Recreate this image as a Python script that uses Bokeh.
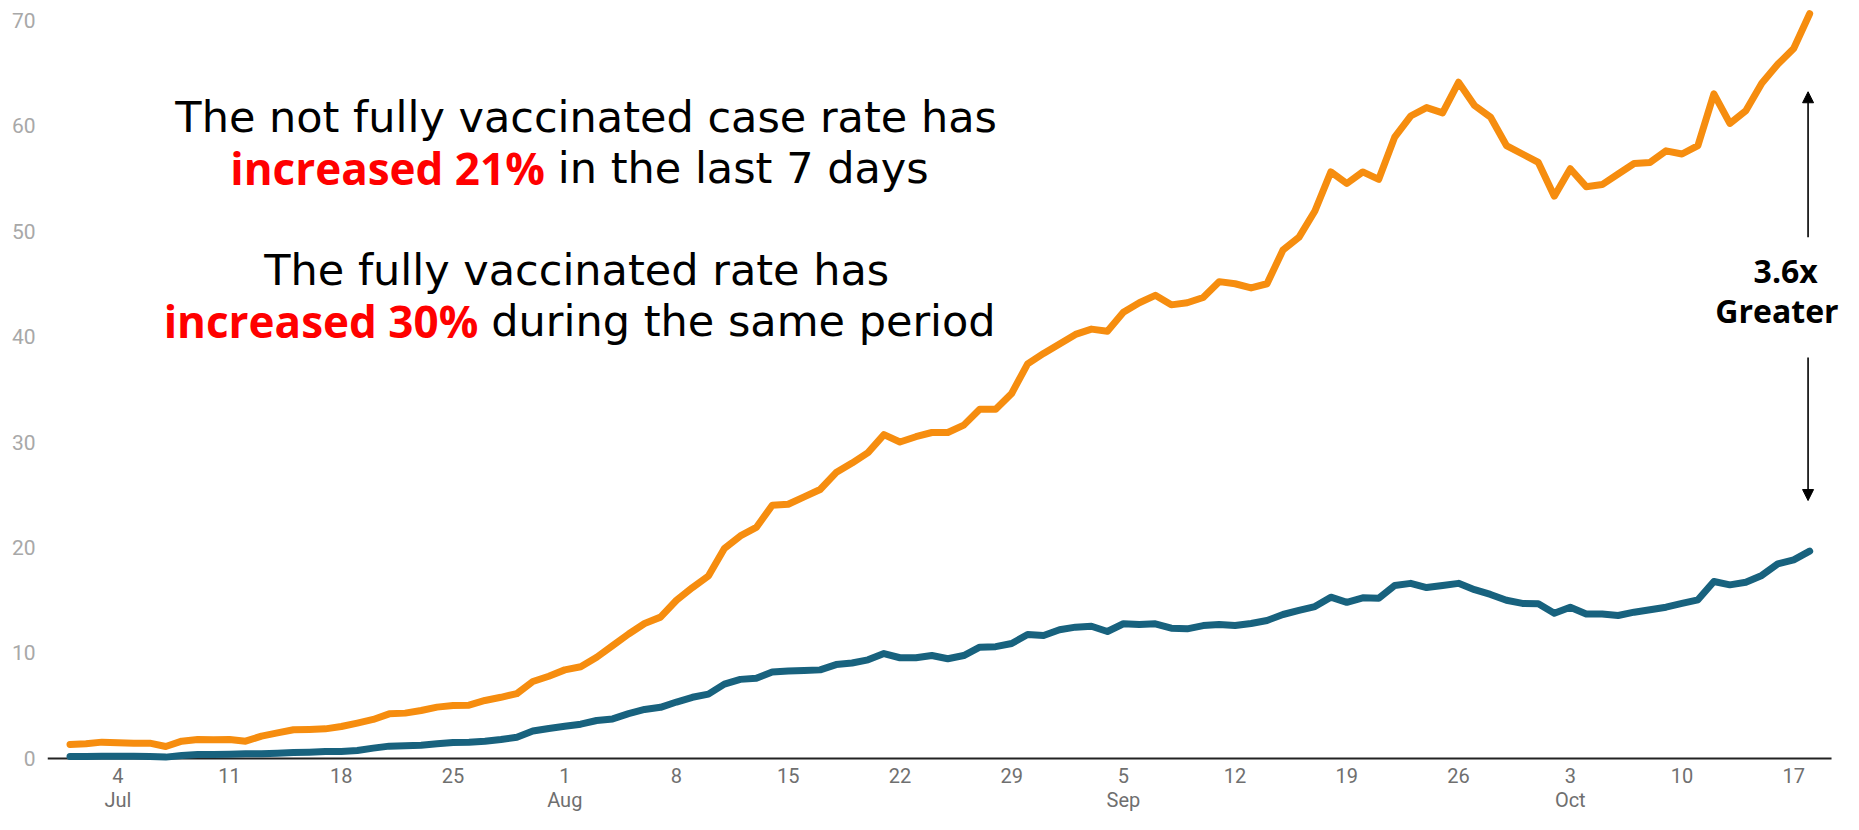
import pandas as pd
from bokeh.plotting import figure
from bokeh.models import FixedTicker, Label, Arrow, NormalHead, Range1d
from bokeh.embed import file_html
from bokeh.resources import INLINE

# ---------------- data ----------------
start_date = "2021-07-01"
end_date = "2021-10-18"

not_fully_vaccinated = [
    1.33, 1.39, 1.55, 1.49, 1.45, 1.45, 1.14, 1.64, 1.80, 1.77,
    1.80, 1.64, 2.12, 2.43, 2.72, 2.75, 2.81, 3.03, 3.35, 3.70,
    4.23, 4.30, 4.55, 4.87, 5.02, 5.05, 5.50, 5.80, 6.15, 7.30,
    7.80, 8.40, 8.70, 9.60, 10.7, 11.8, 12.8, 13.4, 15.0, 16.2,
    17.3, 19.9, 21.1, 21.9, 24.0, 24.1, 24.8, 25.5, 27.1, 28.0,
    29.0, 30.7, 30.0, 30.5, 30.9, 30.9, 31.6, 33.1, 33.1, 34.6,
    37.4, 38.4, 39.3, 40.2, 40.7, 40.5, 42.3, 43.2, 43.9, 43.0,
    43.2, 43.7, 45.2, 45.0, 44.6, 45.0, 48.2, 49.4, 51.9, 55.6,
    54.5, 55.6, 54.9, 58.9, 60.9, 61.7, 61.2, 64.1, 61.9, 60.8,
    58.1, 57.3, 56.5, 53.3, 55.9, 54.2, 54.4, 55.4, 56.4, 56.5,
    57.6, 57.3, 58.1, 63.0, 60.2, 61.4, 64.0, 65.8, 67.3, 70.6,
]

fully_vaccinated = [
    0.19, 0.19, 0.22, 0.22, 0.22, 0.19, 0.13, 0.28, 0.38, 0.38,
    0.41, 0.44, 0.44, 0.50, 0.57, 0.60, 0.66, 0.66, 0.76, 0.98,
    1.17, 1.20, 1.26, 1.39, 1.52, 1.55, 1.64, 1.80, 2.02, 2.60,
    2.85, 3.05, 3.25, 3.60, 3.75, 4.25, 4.65, 4.85, 5.35, 5.80,
    6.10, 7.05, 7.50, 7.60, 8.20, 8.30, 8.35, 8.40, 8.90, 9.05,
    9.35, 9.95, 9.55, 9.55, 9.76, 9.45, 9.76, 10.55, 10.6, 10.9,
    11.75, 11.66, 12.2, 12.45, 12.54, 12.04, 12.77, 12.7, 12.77, 12.35,
    12.29, 12.6, 12.7, 12.6, 12.8, 13.08, 13.65, 14.03, 14.4, 15.29,
    14.8, 15.23, 15.2, 16.4, 16.6, 16.2, 16.4, 16.6, 16.0, 15.55,
    15.0, 14.7, 14.66, 13.77, 14.34, 13.7, 13.7, 13.55, 13.87, 14.1,
    14.34, 14.7, 15.04, 16.78, 16.46, 16.7, 17.35, 18.45, 18.83, 19.65,
]

tick_dates = ["2021-07-04", "2021-07-11", "2021-07-18", "2021-07-25",
              "2021-08-01", "2021-08-08", "2021-08-15", "2021-08-22", "2021-08-29",
              "2021-09-05", "2021-09-12", "2021-09-19", "2021-09-26",
              "2021-10-03", "2021-10-10", "2021-10-17"]
tick_labels = ["4\nJul", "11", "18", "25",
               "1\nAug", "8", "15", "22", "29",
               "5\nSep", "12", "19", "26",
               "3\nOct", "10", "17"]
y_ticks = [0, 10, 20, 30, 40, 50, 60, 70]

headline_1 = "The not fully vaccinated case rate has"
headline_2_red = "increased 21%"
headline_2_rest = "in the last 7 days"
headline_3 = "The fully vaccinated rate has"
headline_4_red = "increased 30%"
headline_4_rest = "during the same period"
ratio_text = "3.6x"
ratio_word = "Greater"

# ---------------- helpers ----------------
dates = pd.date_range(start_date, end_date, freq="D")
t0 = pd.Timestamp(start_date)


def ms(ts):
    return pd.Timestamp(ts).value // 10**6


def day_ms(d):
    """Position d days after the first date, in ms."""
    return (t0 + pd.Timedelta(days=d)).value / 1e6


ORANGE = "#F68D0F"
TEAL = "#18627E"

p = figure(width=1843, height=814, x_axis_type="datetime",
           output_backend="svg", toolbar_location=None,
           x_range=Range1d(day_ms(-1.41), day_ms(111.12)),
           y_range=Range1d(-0.38, 71.85))
p.min_border_left = 47
p.min_border_right = 0
p.min_border_top = 0
p.min_border_bottom = 52
p.outline_line_color = None
p.background_fill_color = "white"
p.border_fill_color = "white"
p.xgrid.grid_line_color = None
p.ygrid.grid_line_color = None

# baseline (x axis line), ends a little after the last date like the original
p.segment(x0=[day_ms(-1.41)], y0=[0], x1=[day_ms(110.37)], y1=[0],
          line_color="#222222", line_width=2)

p.line(dates, not_fully_vaccinated, line_color=ORANGE, line_width=7,
       line_join="round", line_cap="round")
p.line(dates, fully_vaccinated, line_color=TEAL, line_width=7,
       line_join="round", line_cap="round")

# x axis
xa = p.xaxis[0]
xa.ticker = FixedTicker(ticks=[ms(d) for d in tick_dates])
xa.major_label_overrides = {ms(d): lab for d, lab in zip(tick_dates, tick_labels)}
xa.axis_line_color = None
xa.major_tick_line_color = None
xa.minor_tick_line_color = None
xa.major_tick_out = 0
xa.major_tick_in = 0
xa.major_label_standoff = 1
xa.major_label_text_font = "Roboto"
xa.major_label_text_font_size = "20px"
xa.major_label_text_color = "#6f6f6f"
xa.major_label_text_line_height = 1.02

# y axis
ya = p.yaxis[0]
ya.ticker = FixedTicker(ticks=y_ticks)
ya.axis_line_color = None
ya.major_tick_line_color = None
ya.minor_tick_line_color = None
ya.major_tick_out = 0
ya.major_tick_in = 0
ya.major_label_standoff = 12
ya.major_label_text_font = "Roboto"
ya.major_label_text_font_size = "21px"
ya.major_label_text_color = "#a8a8a8"

# ---------------- annotations ----------------
FONT = "DejaVu Sans"
SIZE = "43px"
BFONT = "Open Sans"
BSIZE = "44px"
GAP = 13

p.add_layout(Label(x=day_ms(32.34), y=60.8, text=headline_1, text_font=FONT,
                   text_font_size=SIZE, text_color="black", text_align="center",
                   text_baseline="alphabetic"))
p.add_layout(Label(x=day_ms(29.75), y=55.93, text=headline_2_red, text_font=BFONT,
                   text_font_size=BSIZE, text_font_style="bold", text_color="#FF0000",
                   text_align="right", text_baseline="alphabetic"))
p.add_layout(Label(x=day_ms(29.75), y=55.93, x_offset=GAP, text=headline_2_rest,
                   text_font=FONT, text_font_size=SIZE, text_color="black",
                   text_align="left", text_baseline="alphabetic"))
p.add_layout(Label(x=day_ms(31.75), y=46.33, text=headline_3, text_font=FONT,
                   text_font_size=SIZE, text_color="black", text_align="center",
                   text_baseline="alphabetic"))
p.add_layout(Label(x=day_ms(25.58), y=41.49, text=headline_4_red, text_font=BFONT,
                   text_font_size=BSIZE, text_font_style="bold", text_color="#FF0000",
                   text_align="right", text_baseline="alphabetic"))
p.add_layout(Label(x=day_ms(25.58), y=41.49, x_offset=GAP, text=headline_4_rest,
                   text_font=FONT, text_font_size=SIZE, text_color="black",
                   text_align="left", text_baseline="alphabetic"))

p.add_layout(Label(x=day_ms(107.5), y=46.3, text=ratio_text, text_font=BFONT,
                   text_font_size="32px", text_font_style="bold", text_color="black",
                   text_align="center", text_baseline="alphabetic"))
p.add_layout(Label(x=day_ms(106.95), y=42.45, text=ratio_word, text_font=BFONT,
                   text_font_size="32px", text_font_style="bold", text_color="black",
                   text_align="center", text_baseline="alphabetic"))

ARROW_X = day_ms(108.9)
p.add_layout(Arrow(end=NormalHead(size=11, fill_color="black", line_color="black"),
                   x_start=ARROW_X, y_start=49.4, x_end=ARROW_X, y_end=63.2,
                   line_color="black", line_width=1.6))
p.add_layout(Arrow(end=NormalHead(size=11, fill_color="black", line_color="black"),
                   x_start=ARROW_X, y_start=38.0, x_end=ARROW_X, y_end=24.45,
                   line_color="black", line_width=1.6))

open("out.html", "w").write(file_html(p, INLINE))
